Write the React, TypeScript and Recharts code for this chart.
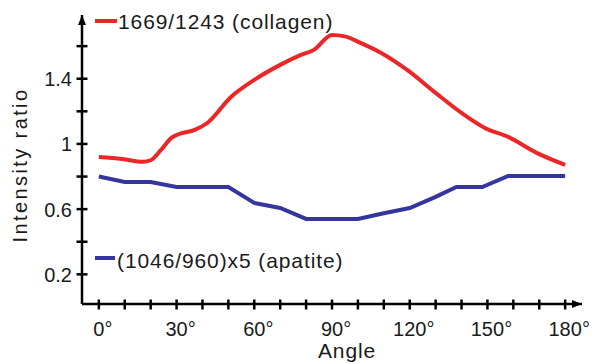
import { Line, LineChart, XAxis, YAxis } from "recharts";

// 1669/1243 band ratio (collagen) vs polarisation angle
const collagenAngle = [0, 9, 17, 20, 24, 28, 31, 37, 42, 51, 60, 70, 78, 83, 90, 95, 101, 109, 119, 130, 140, 149, 158, 169, 180];
const collagenRatio = [0.92, 0.908, 0.89, 0.9, 0.963, 1.037, 1.061, 1.086, 1.13, 1.288, 1.393, 1.485, 1.546, 1.577, 1.669, 1.66, 1.62, 1.558, 1.454, 1.313, 1.19, 1.098, 1.043, 0.945, 0.871];

// (1046/960)x5 band ratio (apatite)
const apatiteAngle = [0, 10, 20, 30, 40, 50, 60, 70, 80, 90, 100, 110, 120, 130, 138, 148, 158, 170, 180];
const apatiteRatio = [0.8, 0.767, 0.767, 0.736, 0.736, 0.736, 0.638, 0.607, 0.54, 0.54, 0.54, 0.575, 0.607, 0.675, 0.736, 0.736, 0.804, 0.804, 0.804];

const angleTicks = [0, 10, 20, 30, 40, 50, 60, 70, 80, 90, 100, 110, 120, 130, 140, 150, 160, 170, 180];
const angleLabels = [0, 30, 60, 90, 120, 150, 180];
const ratioTicks = [0.2, 0.4, 0.6, 0.8, 1, 1.2, 1.4, 1.6];
const ratioLabels = [0.2, 0.6, 1, 1.4];

const seriesNames = ["1669/1243 (collagen)", "(1046/960)x5 (apatite)"];
const seriesColors = ["#ec2626", "#35359e"];

const FONT = '"Liberation Sans", Arial, Helvetica, sans-serif';

const collagen = collagenAngle.map((angle, i) => ({ angle, ratio: collagenRatio[i] }));
const apatite = apatiteAngle.map((angle, i) => ({ angle, ratio: apatiteRatio[i] }));

function AngleTick({ x, y, payload }: any) {
  const v = payload.value as number;
  const txt = String(v);
  return (
    <g>
      <line x1={x} x2={x} y1={y - 4.5} y2={y + 5.5} stroke="#000" strokeWidth={2.5} />
      {angleLabels.includes(v) && (
        <>
          <text x={x} y={y + 32} textAnchor="middle" fontSize={20} fontFamily={FONT} fill="#1a1a1a">
            {txt}
          </text>
          <text x={x + txt.length * 5.6} y={y + 32} textAnchor="start" fontSize={20} fontFamily={FONT} fill="#1a1a1a">
            °
          </text>
        </>
      )}
    </g>
  );
}

function RatioTick({ x, y, payload }: any) {
  const v = payload.value as number;
  return (
    <g>
      <line x1={x - 5.5} x2={x + 5.5} y1={y} y2={y} stroke="#000" strokeWidth={2.5} />
      {ratioLabels.includes(v) && (
        <text x={x - 10} y={y + 7.5} textAnchor="end" fontSize={20} fontFamily={FONT} fill="#1a1a1a">
          {String(v)}
        </text>
      )}
    </g>
  );
}

export default function App() {
  return (
    <div style={{ position: "absolute", left: 0, top: 0, width: 599, height: 364, background: "#fff" }}>
      <svg width={0} height={0} style={{ position: "absolute" }}>
        <defs>
          <marker
            id="axisArrow"
            markerUnits="userSpaceOnUse"
            markerWidth={11}
            markerHeight={8}
            refX={10}
            refY={4}
            orient="auto-start-reverse"
          >
            <path d="M0,0 L10,4 L0,8 Z" fill="#000" />
          </marker>
        </defs>
      </svg>
      <LineChart width={599} height={364} margin={{ top: 15, right: 17, left: 0, bottom: 0 }}>
        <XAxis
          dataKey="angle"
          type="number"
          domain={[-6.5, 186.5]}
          allowDataOverflow
          ticks={angleTicks}
          interval={0}
          height={60}
          tickSize={0}
          tickMargin={0}
          tickLine={false}
          tick={<AngleTick />}
          axisLine={{ stroke: "#000", strokeWidth: 2.5, markerEnd: "url(#axisArrow)" }}
          label={{
            content: () => (
              <text x={347} y={358} textAnchor="middle" fontSize={21} letterSpacing={0.9} fontFamily={FONT} fill="#1a1a1a">
                Angle
              </text>
            ),
          }}
        />
        <YAxis
          type="number"
          domain={[0.018, 1.791]}
          allowDataOverflow
          ticks={ratioTicks}
          interval={0}
          width={82}
          tickSize={0}
          tickMargin={0}
          tickLine={false}
          tick={<RatioTick />}
          axisLine={{ stroke: "#000", strokeWidth: 2.5, markerStart: "url(#axisArrow)" }}
          label={{
            content: () => (
              <text
                transform="translate(27,165) rotate(-90)"
                textAnchor="middle"
                fontSize={20}
                letterSpacing={2.4}
                fontFamily={FONT}
                fill="#1a1a1a"
              >
                Intensity ratio
              </text>
            ),
          }}
        />
        <Line
          data={collagen}
          dataKey="ratio"
          name={seriesNames[0]}
          type="monotone"
          stroke={seriesColors[0]}
          strokeWidth={4}
          dot={false}
          activeDot={false}
          isAnimationActive={false}
        />
        <Line
          data={apatite}
          dataKey="ratio"
          name={seriesNames[1]}
          type="linear"
          stroke={seriesColors[1]}
          strokeWidth={4}
          dot={false}
          activeDot={false}
          isAnimationActive={false}
        />
      </LineChart>
      {/* in-plot legend entries */}
      <svg width={599} height={364} style={{ position: "absolute", left: 0, top: 0, pointerEvents: "none" }}>
        <line x1={95} x2={117} y1={21} y2={21} stroke={seriesColors[0]} strokeWidth={4} />
        <text x={118} y={29} fontSize={21} letterSpacing={0.9} fontFamily={FONT} fill="#1a1a1a">
          {seriesNames[0]}
        </text>
        <line x1={95} x2={115} y1={258} y2={258} stroke={seriesColors[1]} strokeWidth={4} />
        <text x={117} y={268} fontSize={21} letterSpacing={0.9} fontFamily={FONT} fill="#1a1a1a">
          {seriesNames[1]}
        </text>
      </svg>
    </div>
  );
}
